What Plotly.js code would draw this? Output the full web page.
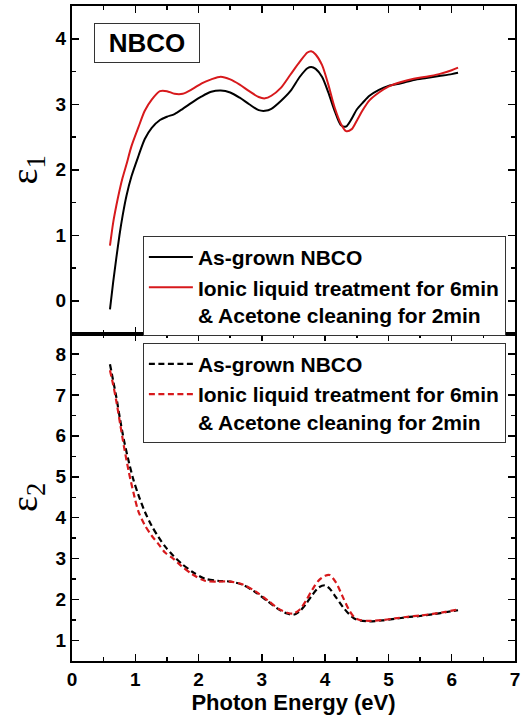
<!DOCTYPE html>
<html>
<head>
<meta charset="utf-8">
<script src="https://cdn.plot.ly/plotly-3.0.1.min.js"></script>
<style>
  html, body { margin: 0; padding: 0; background: #fff; }
  #chart { width: 523px; height: 720px; }
</style>
</head>
<body>
<div id="chart"></div>
<script>
// Photon energy grid for the real part (eV)
const energyE1 = [0.6,0.65,0.7,0.75,0.8,0.86,0.94,1.05,1.15,1.26,1.39,1.5,1.62,1.75,1.9,2.05,2.2,2.35,2.5,2.65,2.8,2.95,3.05,3.15,3.3,3.45,3.6,3.72,3.78,3.85,3.95,4.05,4.15,4.25,4.33,4.42,4.5,4.6,4.7,4.85,5.0,5.2,5.4,5.6,5.8,6.0,6.1];
// epsilon_1, as-grown NBCO
const e1AsGrown = [-0.13,0.28,0.65,1.0,1.3,1.6,1.9,2.21,2.47,2.64,2.76,2.81,2.85,2.93,3.03,3.12,3.19,3.21,3.18,3.10,3.0,2.91,2.90,2.93,3.05,3.2,3.42,3.55,3.57,3.54,3.42,3.18,2.9,2.68,2.66,2.78,2.92,3.03,3.13,3.22,3.28,3.32,3.37,3.40,3.43,3.46,3.48];
// epsilon_1, ionic liquid 6 min + acetone 2 min
const e1Treated = [0.84,1.19,1.45,1.68,1.88,2.08,2.36,2.65,2.9,3.07,3.2,3.2,3.16,3.16,3.23,3.32,3.38,3.42,3.38,3.3,3.2,3.11,3.09,3.13,3.25,3.45,3.65,3.79,3.81,3.76,3.6,3.3,2.95,2.7,2.59,2.62,2.75,2.92,3.06,3.18,3.27,3.34,3.39,3.42,3.46,3.52,3.56];

// Photon energy grid for the imaginary part (eV)
const energyE2 = [0.6,0.65,0.7,0.76,0.82,0.9,0.97,1.05,1.15,1.26,1.37,1.47,1.6,1.73,1.9,2.1,2.3,2.5,2.7,2.9,3.1,3.28,3.4,3.5,3.6,3.7,3.8,3.9,4.0,4.07,4.17,4.28,4.38,4.46,4.55,4.7,4.9,5.1,5.3,5.5,5.7,5.9,6.1];
const e2AsGrown = [7.75,7.35,6.95,6.4,5.9,5.35,4.93,4.55,4.15,3.8,3.52,3.3,3.07,2.88,2.68,2.51,2.46,2.44,2.36,2.18,1.95,1.75,1.66,1.63,1.72,1.9,2.12,2.3,2.35,2.27,2.06,1.82,1.64,1.54,1.49,1.47,1.49,1.53,1.57,1.6,1.64,1.69,1.74];
const e2Treated = [7.6,7.25,6.85,6.3,5.75,5.1,4.62,4.15,3.82,3.56,3.35,3.15,3.0,2.82,2.62,2.46,2.44,2.44,2.37,2.2,1.97,1.76,1.68,1.66,1.76,1.98,2.25,2.47,2.58,2.6,2.42,2.06,1.74,1.57,1.5,1.48,1.5,1.54,1.58,1.61,1.65,1.7,1.76];

// Tick positions and labels
const xTicks = [0, 1, 2, 3, 4, 5, 6, 7];
const xTickLabels = ['0', '1', '2', '3', '4', '5', '6', '7'];
const e1Ticks = [0, 1, 2, 3, 4];
const e1TickLabels = ['0', '1', '2', '3', '4'];
const e2Ticks = [1, 2, 3, 4, 5, 6, 7, 8];
const e2TickLabels = ['1', '2', '3', '4', '5', '6', '7', '8'];

const nameAsGrown = 'As-grown NBCO';
const nameTreated = 'Ionic liquid treatment for 6min<br>& Acetone cleaning for 2min';

const FONT = '"Liberation Sans", Arial, sans-serif';
const RED = '#d7191c';
const bold = arr => arr.map(s => '<b>' + s + '</b>');

const traces = [
  { x: energyE1, y: e1AsGrown, xaxis: 'x2', yaxis: 'y2', name: nameAsGrown, legend: 'legend',
    mode: 'lines', line: { color: '#000', width: 2, shape: 'spline', smoothing: 0.8 } },
  { x: energyE1, y: e1Treated, xaxis: 'x2', yaxis: 'y2', name: nameTreated, legend: 'legend',
    mode: 'lines', line: { color: RED, width: 2, shape: 'spline', smoothing: 0.8 } },
  { x: energyE2, y: e2AsGrown, xaxis: 'x', yaxis: 'y', name: nameAsGrown, legend: 'legend2',
    mode: 'lines', line: { color: '#000', width: 2.2, dash: '6px,3.5px', shape: 'spline', smoothing: 0.8 } },
  { x: energyE2, y: e2Treated, xaxis: 'x', yaxis: 'y', name: nameTreated, legend: 'legend2',
    mode: 'lines', line: { color: RED, width: 2.2, dash: '6px,3.5px', shape: 'spline', smoothing: 0.8 } }
];

const tickFont = { family: FONT, size: 19, color: '#000' };
const minorTicks = { dtick: 0.5, ticks: 'inside', ticklen: 4, tickwidth: 1.5, tickcolor: '#000' };

function axis(vals, labels, extra) {
  return Object.assign({
    tickmode: 'array', tickvals: vals, ticktext: bold(labels),
    ticks: 'inside', ticklen: 7, tickwidth: 1.5, tickcolor: '#000',
    minor: Object.assign({ tickmode: 'linear', tick0: 0 }, minorTicks),
    showline: true, linewidth: 2, linecolor: '#000', mirror: 'ticks',
    showgrid: false, zeroline: false, tickfont: tickFont, fixedrange: true
  }, extra);
}

const legendBase = {
  xref: 'paper', yref: 'paper', xanchor: 'left', yanchor: 'top',
  bgcolor: '#fff', bordercolor: '#333', borderwidth: 1,
  font: { family: FONT, size: 21, weight: 700, color: '#000' },
  valign: 'top', tracegroupgap: 0, itemwidth: 44,
  itemclick: false, itemdoubleclick: false
};

const serifTitle = { family: '"Liberation Serif", "DejaVu Serif", serif', size: 38, weight: 400, color: '#000' };

const layout = {
  width: 523, height: 720,
  margin: { l: 72, r: 8, t: 6, b: 59 },
  paper_bgcolor: '#fff', plot_bgcolor: '#fff',
  font: { family: FONT, color: '#000' },
  xaxis: axis(xTicks, xTickLabels, { anchor: 'y', domain: [0, 1], range: [0, 7],
    title: { text: '<b>Photon Energy (eV)</b>', font: { family: FONT, size: 22 }, standoff: 4 } }),
  yaxis: axis(e2Ticks, e2TickLabels, { anchor: 'x', domain: [0, 0.5], range: [0.5, 8.5],
    title: { text: 'ε<sub>2</sub>', font: serifTitle, standoff: 6 } }),
  xaxis2: axis(xTicks, xTickLabels, { anchor: 'y2', matches: 'x', range: [0, 7], showticklabels: false }),
  yaxis2: axis(e1Ticks, e1TickLabels, { anchor: 'x2', domain: [0.5, 1], range: [-0.5, 4.5],
    title: { text: 'ε<sub>1</sub>', font: serifTitle, standoff: 6 } }),
  legend: Object.assign({}, legendBase, { x: 0.16, y: 0.649 }),
  legend2: Object.assign({}, legendBase, { x: 0.16, y: 0.486 }),
  annotations: [{
    xref: 'x2', yref: 'y2', x: 1.18, y: 3.93,
    text: '<b>NBCO</b>', showarrow: false,
    font: { family: FONT, size: 26, color: '#000' },
    bordercolor: '#333', borderwidth: 1, borderpad: 4, bgcolor: '#fff',
    width: 96, height: 30
  }]
};

Plotly.newPlot('chart', traces, layout, { displayModeBar: false, staticPlot: true });
</script>
</body>
</html>
